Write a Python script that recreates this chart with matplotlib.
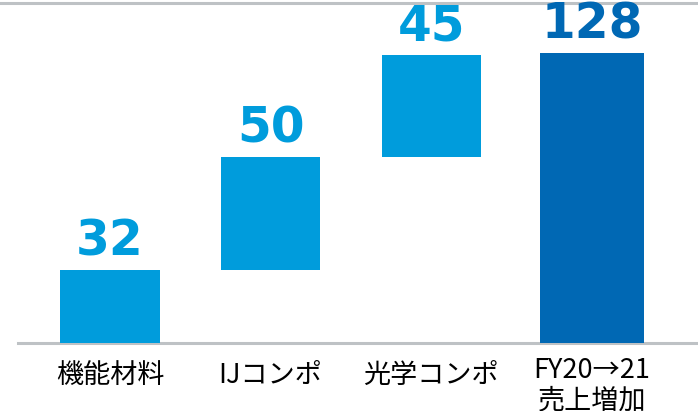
import matplotlib

matplotlib.use("Agg")

import matplotlib.pyplot as plt
import numpy as np


categories = ["機能材料", "IJコンポ", "光学コンポ", "FY20→21\n売上増加"]
increments = [32, 50, 45]
total = 128

LIGHT_BLUE = "#009CDC"
DARK_BLUE = "#0068B4"
GRAY = "#BEC2C5"

plt.rcParams["font.family"] = ["Noto Sans CJK JP", "DejaVu Sans"]

fig = plt.figure(figsize=(6.98, 4.11), dpi=100)
ax = fig.add_axes([0.0, 68.5 / 411, 1.0, 339.5 / 411])

# waterfall: each increment starts where the previous one ended
bottoms = np.concatenate(([0], np.cumsum(increments)[:-1]))
x_steps = np.arange(len(increments))
ax.bar(x_steps, increments, bottom=bottoms, width=0.62, color=LIGHT_BLUE, zorder=2)
x_total = len(increments)
ax.bar(x_total, total, width=0.645, color=DARK_BLUE, zorder=2)

label_font = dict(family="DejaVu Sans", fontsize=35, fontweight="bold")
for x, value, base in zip(x_steps, increments, bottoms):
    ax.annotate(
        f"{value}",
        xy=(x, base + value),
        xytext=(0, 3),
        textcoords="offset points",
        ha="center",
        va="bottom",
        color=LIGHT_BLUE,
        **label_font,
    )
ax.annotate(
    f"{total}",
    xy=(x_total, total),
    xytext=(0, 3),
    textcoords="offset points",
    ha="center",
    va="bottom",
    color=DARK_BLUE,
    **label_font,
)

# category labels under the baseline, centred a bit lower for two-line text
for x, name in enumerate(categories):
    n_lines = name.count("\n") + 1
    ax.annotate(
        name,
        xy=(x, 0),
        xycoords=("data", "axes fraction"),
        xytext=(0, -23.5 - 7.5 * (n_lines - 1)),
        textcoords="offset points",
        ha="center",
        va="center",
        fontsize=19.5,
        linespacing=1.16,
        color="black",
        annotation_clip=False,
    )

ax.set_xlim(-0.685, 3.66)
ax.set_ylim(0, 150)

for side in ("left", "right"):
    ax.spines[side].set_visible(False)
ax.spines["top"].set_color(GRAY)
ax.spines["top"].set_linewidth(2.2)
ax.spines["bottom"].set_color(GRAY)
ax.spines["bottom"].set_linewidth(2.2)
ax.spines["bottom"].set_bounds(-0.573, 3.66)
ax.spines["bottom"].set_zorder(1)

ax.set_xticks([])
ax.set_yticks([])

fig.savefig("out.png", dpi=100)
